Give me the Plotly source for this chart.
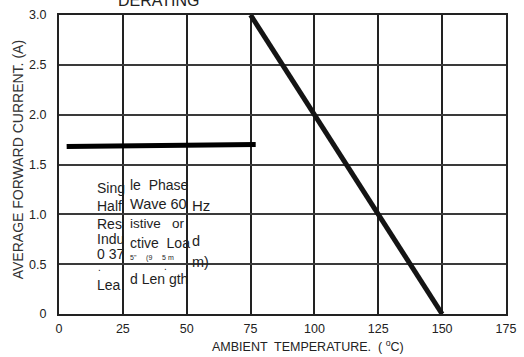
import plotly.graph_objects as go

# Data
derate_temp = [75, 150]
derate_current = [3.0, 0.0]
flat_temp = [3, 77]
flat_current = [1.68, 1.70]

x_ticks = [0, 25, 50, 75, 100, 125, 150, 175]
x_ticklabels = ["0", "25", "50", "75", "100", "125", "150", "175"]
y_ticks = [0, 0.5, 1.0, 1.5, 2.0, 2.5, 3.0]
y_ticklabels = ["0", "0.5", "1.0", "1.5", "2.0", "2.5", "3.0"]

# Fragmented note text (as in the scanned original): (text, x, y, size)
note_fragments = [
    ("Sing", 14.0, 1.265, 14),
    ("le  Phase", 26.9, 1.294, 14),
    ("Half", 14.0, 1.088, 14),
    ("Wave 60", 26.9, 1.101, 14.5),
    ("Hz", 51.4, 1.088, 15),
    ("Res", 14.0, 0.905, 14),
    ("istive   or", 26.9, 0.912, 13.5),
    ("Indu", 14.0, 0.755, 14),
    ("ctive  Loa", 26.9, 0.709, 14),
    ("d", 51.4, 0.735, 14.5),
    ("0 37", 14.0, 0.598, 14),
    ("5\"     (9     5 m", 26.9, 0.559, 7),
    ("m)", 51.4, 0.523, 14.5),
    (".", 14.4, 0.465, 10),
    (".", 40.3, 0.478, 10),
    ("Lea", 14.0, 0.294, 14),
    ("d Len gth", 26.9, 0.353, 14),
]

FONT = "Liberation Sans, Arial, sans-serif"

fig = go.Figure()
fig.add_trace(go.Scatter(x=derate_temp, y=derate_current, mode="lines",
                         line=dict(color="#141414", width=5), hoverinfo="skip"))
fig.add_trace(go.Scatter(x=flat_temp, y=flat_current, mode="lines",
                         line=dict(color="#000000", width=5), hoverinfo="skip"))

annotations = []
for txt, xx, yy, sz in note_fragments:
    annotations.append(dict(text=txt, x=xx, y=yy, xref="x", yref="y",
                            xanchor="left", yanchor="middle", showarrow=False,
                            font=dict(family=FONT, size=sz, color="#1e1e1e")))

annotations.append(dict(text="AMBIENT  TEMPERATURE.  ( <sup>o</sup>C)",
                        x=(312 - 59) / 454, y=-33 / 306, xref="paper", yref="paper",
                        xanchor="center", yanchor="middle", showarrow=False,
                        font=dict(family=FONT, size=12.5, color="#222222")))
annotations.append(dict(text="AVERAGE FORWARD CURRENT. (A)",
                        x=-42 / 454, y=(314 - 156) / 306, xref="paper", yref="paper",
                        xanchor="center", yanchor="middle", showarrow=False, textangle=-90,
                        font=dict(family=FONT, size=14, color="#333333")))
annotations.append(dict(text="DERATING",
                        x=(160 - 59) / 454, y=1 + 15 / 306, xref="paper", yref="paper",
                        xanchor="center", yanchor="middle", showarrow=False,
                        font=dict(family=FONT, size=16, color="#222222")))

fig.update_layout(
    width=524, height=357,
    margin=dict(l=59, r=11, t=8, b=43),
    paper_bgcolor="white", plot_bgcolor="white",
    showlegend=False,
    annotations=annotations,
    xaxis=dict(range=[0, 175], tickvals=x_ticks, ticktext=x_ticklabels,
               showgrid=True, gridcolor="#222222", gridwidth=2,
               showline=True, linecolor="#222222", linewidth=2, mirror=True,
               ticks="outside", ticklen=2, tickcolor="rgba(0,0,0,0)",
               tickfont=dict(family=FONT, size=12.5, color="#222222"),
               zeroline=False, fixedrange=True),
    yaxis=dict(range=[0, 3.0], tickvals=y_ticks, ticktext=y_ticklabels,
               showgrid=True, gridcolor="#3a3a3a", gridwidth=1.5,
               showline=True, linecolor="#222222", linewidth=2, mirror=True,
               ticks="outside", ticklen=8, tickcolor="rgba(0,0,0,0)",
               tickfont=dict(family=FONT, size=12.5, color="#222222"),
               zeroline=False, fixedrange=True),
)

fig.write_html("out.html", config={"displayModeBar": False})
